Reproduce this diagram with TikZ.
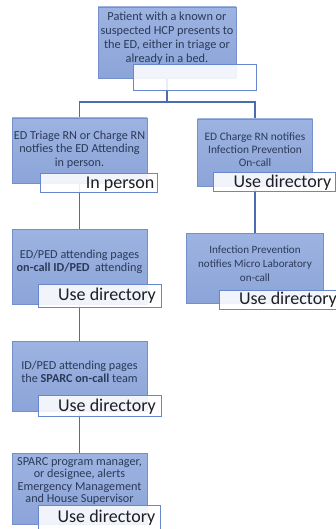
\documentclass[tikz,border=0pt]{standalone}
\usepackage{fontspec}
\setmainfont{Carlito}

\pgfdeclarelayer{back}
\pgfsetlayers{back,main}

\definecolor{boxfill}{HTML}{8CA4D8}
\definecolor{boxtop}{HTML}{9DB3E1}
\definecolor{boxedge}{HTML}{7490CC}
\definecolor{ink}{HTML}{2A3A58}
\definecolor{tagink}{HTML}{1E1E24}
\definecolor{wirecol}{HTML}{4B6CB2}
\definecolor{tagedge}{HTML}{6687D0}

\tikzset{
  stepbox/.style={draw=boxedge, line width=0.8pt, top color=boxtop,
    bottom color=boxfill, inner sep=0pt, outer sep=0pt},
  tagbox/.style={draw=tagedge, line width=1pt, fill=white,
    fill opacity=0.88, inner sep=0pt, outer sep=0pt},
  steptext/.style={text=ink, align=center, inner sep=0pt,
    font=\fontsize{12.2}{13.5}\selectfont},
  tagtext/.style={text=tagink, anchor=base east, inner sep=0pt,
    font=\fontsize{18}{20}\selectfont},
  wire/.style={draw=wirecol, line width=1.4pt}
}

\begin{document}
\begin{tikzpicture}[x=1pt, y=-1pt]
  \useasboundingbox (0,0) rectangle (336,529);

  % top step
  \node[stepbox, minimum width=138pt, minimum height=71pt] (top) at (167,42.5) {};
  \node[steptext, font=\fontsize{12.3}{14}\selectfont] (toptxt) at (167,38.5)
    {Patient with a known or\\suspected HCP presents to\\the ED, either in triage or\\already in a bed.};
  \node[tagbox, minimum width=123pt, minimum height=26pt] (toptag) at (194.5,78) {};

  % left column
  \node[stepbox, minimum width=135pt, minimum height=65pt] (l1) at (79.5,150.5) {};
  \node[steptext] (l1txt) at (79.5,149.5)
    {ED Triage RN or Charge RN\\notfies the ED Attending\\in person.};
  \node[tagbox, minimum width=117pt, minimum height=19pt] (l1tag) at (98.5,183.5) {};
  \node[tagtext] (l1tagtxt) at (154.5,188.5) {In person};

  \node[stepbox, minimum width=135pt, minimum height=75pt] (l2) at (79.5,266.5) {};
  \node[steptext] (l2txt) at (79.5,262)
    {ED/PED attending pages\\\textbf{on-call ID/PED}\ \ attending};
  \node[tagbox, minimum width=123pt, minimum height=23pt] (l2tag) at (99.5,295.5) {};
  \node[tagtext] (l2tagtxt) at (156,300) {Use directory};

  \node[stepbox, minimum width=135pt, minimum height=70pt] (l3) at (79.5,376) {};
  \node[steptext] (l3txt) at (79.5,372)
    {ID/PED attending pages\\the \textbf{SPARC on-call} team};
  \node[tagbox, minimum width=123pt, minimum height=21pt] (l3tag) at (99.5,405.5) {};
  \node[tagtext] (l3tagtxt) at (156,411) {Use directory};

  \node[stepbox, minimum width=135pt, minimum height=71pt] (l4) at (79.5,488.5) {};
  \node[steptext, font=\fontsize{12.2}{12.4}\selectfont] (l4txt) at (79.5,481)
    {SPARC program manager,\\or designee, alerts\\Emergency Management\\and House Supervisor};
  \node[tagbox, minimum width=122pt, minimum height=27pt] (l4tag) at (99,518.5) {};
  \node[tagtext] (l4tagtxt) at (155.5,522) {Use directory};

  % right column
  \node[stepbox, minimum width=115pt, minimum height=67pt] (r1) at (255,152.5) {};
  \node[steptext, font=\fontsize{11.4}{13}\selectfont] (r1txt) at (255,150)
    {ED Charge RN notifies\\Infection Prevention\\On-call};
  \node[tagbox, minimum width=122pt, minimum height=19pt] (r1tag) at (274,182.5) {};
  \node[tagtext] (r1tagtxt) at (331.5,187.5) {Use directory};

  \node[stepbox, minimum width=137pt, minimum height=70pt] (r2) at (255,268) {};
  \node[steptext, font=\fontsize{11.1}{14}\selectfont] (r2txt) at (255,264)
    {Infection Prevention\\notifies Micro Laboratory\\on-call};
  \node[tagbox, minimum width=122pt, minimum height=19pt] (r2tag) at (280,299.5) {};
  \node[tagtext] (r2tagtxt) at (337,304) {Use directory};

  % connectors, drawn behind the boxes
  \coordinate (split) at (167,102);
  \begin{pgfonlayer}{back}
    \draw[wire] (top.south) -- (split);
    \draw[wire] (split) -| (l1.north);
    \draw[wire] (split) -| (r1.north);
    \draw[wire] (l1.south) -- (l2.north);
    \draw[wire] (l2.south) -- (l3.north);
    \draw[wire] (l3.south) -- (l4.north);
    \draw[wire] (r1.south) -- (r2.north);
  \end{pgfonlayer}
\end{tikzpicture}
\end{document}
